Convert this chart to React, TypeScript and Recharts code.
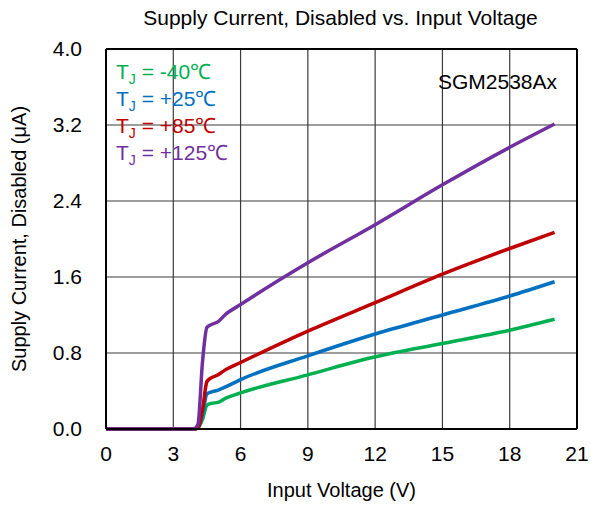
import React from 'react';
import { LineChart, Line, XAxis, YAxis, CartesianGrid, ReferenceLine, Label } from 'recharts';

const voltage = [0, 2, 3.5, 3.9, 4.1, 4.3, 4.5, 4.7, 5.0, 5.3, 6, 9, 12, 15, 18, 20];
const tjMinus40 = [0, 0, 0, 0, 0.01, 0.1, 0.25, 0.27, 0.28, 0.32, 0.38, 0.57, 0.76, 0.9, 1.04, 1.155];
const tjPlus25 = [0, 0, 0, 0, 0.01, 0.15, 0.37, 0.39, 0.41, 0.44, 0.52, 0.77, 1.0, 1.2, 1.4, 1.55];
const tjPlus85 = [0, 0, 0, 0, 0.01, 0.2, 0.5, 0.54, 0.57, 0.62, 0.7, 1.03, 1.33, 1.63, 1.9, 2.07];
const tjPlus125 = [0, 0, 0, 0, 0.05, 0.7, 1.07, 1.1, 1.13, 1.2, 1.31, 1.75, 2.15, 2.57, 2.965, 3.21];

const xTicks = [0, 3, 6, 9, 12, 15, 18, 21];
const yTicks = [0, 0.8, 1.6, 2.4, 3.2, 4.0];

const series = [
  { key: 'm40', label: '-40℃', color: '#00B050', values: tjMinus40 },
  { key: 'p25', label: '+25℃', color: '#0070C0', values: tjPlus25 },
  { key: 'p85', label: '+85℃', color: '#C00000', values: tjPlus85 },
  { key: 'p125', label: '+125℃', color: '#7030A0', values: tjPlus125 },
];

const data = voltage.map((v, i) => {
  const row: any = { v };
  series.forEach((s) => (row[s.key] = s.values[i]));
  return row;
});

const FONT = '"Liberation Sans", Arial, sans-serif';
const FS = 21;

export default function App() {
  return (
    <div style={{ position: 'absolute', left: 0, top: 0, width: 591, height: 507, background: '#fff' }}>
      <LineChart width={591} height={507} data={data} margin={{ top: 49, right: 14, bottom: 48, left: 0 }}>
        <CartesianGrid stroke="#3c3c3c" strokeWidth={1.2} horizontalValues={yTicks} verticalValues={xTicks} />
        <XAxis
          dataKey="v" type="number" domain={[0, 21]} ticks={xTicks} interval={0} height={30}
          tickLine={false} tickSize={0} tickMargin={17}
          axisLine={{ stroke: '#000', strokeWidth: 2 }}
          tick={{ fill: '#000', fontSize: FS, fontFamily: FONT }}
        >
          <Label value="Input Voltage (V)" position="bottom" offset={24} style={{ fill: '#000', fontSize: FS - 1, fontFamily: FONT }} />
        </XAxis>
        <YAxis
          type="number" domain={[0, 4]} ticks={yTicks} interval={0} width={106}
          tickFormatter={(t: number) => t.toFixed(1)}
          tickLine={false} tickSize={0} tickMargin={24}
          axisLine={{ stroke: '#000', strokeWidth: 2 }}
          tick={{ fill: '#000', fontSize: FS, fontFamily: FONT }}
        >
          <Label value="Supply Current, Disabled (μA)" angle={-90} position="insideLeft" offset={19} style={{ fill: '#000', fontSize: FS - 1, fontFamily: FONT, textAnchor: 'middle' }} />
        </YAxis>
        <ReferenceLine y={4} stroke="#000" strokeWidth={2} />
        <ReferenceLine x={21} stroke="#000" strokeWidth={2} />
        {series.map((s) => (
          <Line
            key={s.key} dataKey={s.key} name={s.label} type="monotone" stroke={s.color}
            strokeWidth={3.5} dot={false} isAnimationActive={false}
          />
        ))}
      </LineChart>
      <div
        style={{
          position: 'absolute', left: 0, width: 681, top: 6, textAlign: 'center',
          fontFamily: FONT, fontSize: FS, color: '#000', whiteSpace: 'nowrap',
        }}
      >
        Supply Current, Disabled vs. Input Voltage
      </div>
      <div
        style={{
          position: 'absolute', right: 34, top: 70, fontFamily: FONT, fontSize: FS, color: '#000',
        }}
      >
        SGM2538Ax
      </div>
      <div style={{ position: 'absolute', left: 116, top: 58, fontFamily: FONT, fontSize: FS, lineHeight: '27px' }}>
        {series.map((s) => (
          <div key={s.key} style={{ color: s.color, whiteSpace: 'nowrap' }}>
            T<sub style={{ fontSize: 14, verticalAlign: '-5px', lineHeight: 0 }}>J</sub> = {s.label}
          </div>
        ))}
      </div>
    </div>
  );
}
